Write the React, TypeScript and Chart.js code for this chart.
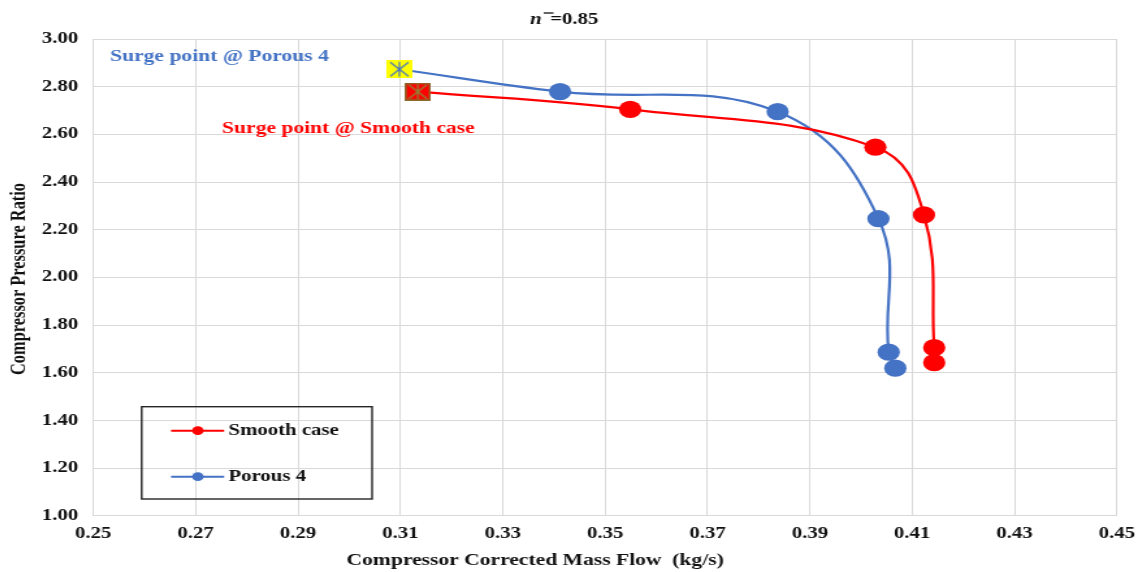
import { useEffect, useRef } from 'react';
import { Chart, registerables } from 'chart.js';

Chart.register(...registerables);

// Compressor characteristic at n̄ = 0.85 (first point of each series = surge point)
const smoothFlow = [0.3134, 0.3549, 0.4028, 0.4123, 0.4143, 0.4143];
const smoothRatio = [2.779, 2.705, 2.546, 2.262, 1.705, 1.642];
const porousFlow = [0.3098, 0.3412, 0.3837, 0.4034, 0.4054, 0.4067];
const porousRatio = [2.873, 2.779, 2.695, 2.246, 1.686, 1.619];

const seriesNames = ['Smooth case', 'Porous 4'];
const flowTicks = [0.25, 0.27, 0.29, 0.31, 0.33, 0.35, 0.37, 0.39, 0.41, 0.43, 0.45];
const ratioTicks = [1.0, 1.2, 1.4, 1.6, 1.8, 2.0, 2.2, 2.4, 2.6, 2.8, 3.0];

const RED = '#FF0000';
const BLUE = '#4472C4';
const GRID = '#d9d9d9';
const INK = '#111111';
const SERIF = "'Liberation Serif', 'Times New Roman', serif";

// The canvas is rendered narrow and widened by CSS (factor 1.3), giving the stretched look
const STRETCH = 1.3;
const CSS_W = 1130;
const W = Math.round(CSS_W / STRETCH);
const H = 564;
const AREA = { left: 65.6, right: 852.8, top: 31, bottom: 507.7 };

function surgeMarker(fill: string, star: string, edge?: string) {
  const c = document.createElement('canvas');
  c.width = 20;
  c.height = 18;
  const g = c.getContext('2d')!;
  g.fillStyle = fill;
  g.fillRect(0, 0, 20, 18);
  if (edge) {
    g.strokeStyle = edge;
    g.lineWidth = 1.5;
    g.strokeRect(0.75, 0.75, 18.5, 16.5);
  }
  g.strokeStyle = star;
  g.lineWidth = 1.2;
  g.beginPath();
  g.moveTo(10, 1.5);
  g.lineTo(10, 16.5);
  g.moveTo(3, 2);
  g.lineTo(17, 16);
  g.moveTo(17, 2);
  g.lineTo(3, 16);
  g.stroke();
  return c;
}

const overlay = {
  id: 'overlay',
  afterDraw(chart: any) {
    const ctx = chart.ctx as CanvasRenderingContext2D;
    ctx.save();
    ctx.fillStyle = INK;
    ctx.textBaseline = 'middle';
    ctx.textAlign = 'left';

    // chart title: n̄ = 0.85
    ctx.font = `italic bold 16px ${SERIF}`;
    ctx.fillText('n', 401.5, 12);
    ctx.font = `bold 16px ${SERIF}`;
    ctx.fillText('=0.85', 417, 12);
    ctx.strokeStyle = INK;
    ctx.lineWidth = 1.3;
    ctx.beginPath();
    ctx.moveTo(412, 5);
    ctx.lineTo(419.5, 5);
    ctx.stroke();

    // axis titles
    ctx.textAlign = 'center';
    ctx.font = `bold 16.6px ${SERIF}`;
    ctx.fillText('Compressor Corrected Mass Flow  (kg/s)', 405.4, 553);
    ctx.save();
    ctx.translate(8.5, 271);
    ctx.rotate(-Math.PI / 2);
    ctx.font = `bold 16.4px ${SERIF}`;
    ctx.fillText('Compressor Pressure Ratio', 0, 0);
    ctx.restore();

    // surge point notes
    ctx.textAlign = 'left';
    ctx.font = `bold 16.6px ${SERIF}`;
    ctx.fillStyle = BLUE;
    ctx.fillText('Surge point @ Porous 4', 78.5, 49);
    ctx.fillStyle = RED;
    ctx.fillText('Surge point @ Smooth case', 164.6, 120.5);

    // legend box
    ctx.strokeStyle = '#262626';
    ctx.lineWidth = 1.4;
    ctx.strokeRect(102.8, 398.7, 177.2, 92.3);
    const rows = [
      { name: seriesNames[0], color: RED, y: 422.7 },
      { name: seriesNames[1], color: BLUE, y: 468.7 },
    ];
    for (const r of rows) {
      ctx.strokeStyle = r.color;
      ctx.lineWidth = 2;
      ctx.beginPath();
      ctx.moveTo(125.4, r.y);
      ctx.lineTo(166.2, r.y);
      ctx.stroke();
      ctx.fillStyle = r.color;
      ctx.beginPath();
      ctx.arc(146, r.y, 4.4, 0, Math.PI * 2);
      ctx.fill();
      ctx.fillStyle = INK;
      ctx.font = `bold 16px ${SERIF}`;
      ctx.fillText(r.name, 169.5, r.y);
    }
    ctx.restore();
  },
};

export default function App() {
  const ref = useRef<HTMLCanvasElement | null>(null);

  useEffect(() => {
    const canvas = ref.current;
    if (!canvas) return;

    const redSurge = surgeMarker(RED, '#8a8a3a', '#8a6a2a');
    const blueSurge = surgeMarker('#FFFF00', BLUE);

    const tickFont = { family: SERIF, size: 16, weight: 'bold' as const };

    const chart = new Chart(canvas, {
      type: 'scatter',
      data: {
        datasets: [
          {
            label: seriesNames[0],
            data: smoothFlow.map((x, i) => ({ x, y: smoothRatio[i] })),
            showLine: true,
            borderColor: RED,
            backgroundColor: RED,
            borderWidth: 2.2,
            tension: 0.4,
            pointRadius: 8.6,
            pointBorderWidth: 0,
            pointStyle: (c: any) => (c.dataIndex === 0 ? redSurge : 'circle'),
          },
          {
            label: seriesNames[1],
            data: porousFlow.map((x, i) => ({ x, y: porousRatio[i] })),
            showLine: true,
            borderColor: BLUE,
            backgroundColor: BLUE,
            borderWidth: 2.2,
            tension: 0.4,
            pointRadius: 8.6,
            pointBorderWidth: 0,
            pointStyle: (c: any) => (c.dataIndex === 0 ? blueSurge : 'circle'),
          },
        ],
      },
      options: {
        responsive: false,
        animation: false,
        devicePixelRatio: 1,
        layout: {
          autoPadding: false,
          padding: { left: 0, top: AREA.top, right: W - AREA.right, bottom: 0 },
        },
        plugins: {
          legend: { display: false },
          title: { display: false },
          tooltip: { enabled: false },
        },
        scales: {
          x: {
            type: 'linear',
            min: flowTicks[0],
            max: flowTicks[flowTicks.length - 1],
            afterBuildTicks: (s: any) => {
              s.ticks = flowTicks.map((value) => ({ value }));
            },
            afterFit: (s: any) => {
              s.height = H - AREA.bottom;
              s.paddingLeft = 0;
              s.paddingRight = 0;
            },
            grid: { color: GRID, lineWidth: 1, drawTicks: false },
            border: { color: GRID, width: 1 },
            ticks: {
              font: tickFont,
              color: INK,
              padding: 9,
              maxRotation: 0,
              autoSkip: false,
              callback: (v: any) => Number(v).toFixed(2),
            },
          },
          y: {
            type: 'linear',
            min: ratioTicks[0],
            max: ratioTicks[ratioTicks.length - 1],
            afterBuildTicks: (s: any) => {
              s.ticks = ratioTicks.map((value) => ({ value }));
            },
            afterFit: (s: any) => {
              s.width = AREA.left;
              s.paddingTop = 0;
              s.paddingBottom = 0;
            },
            grid: { color: GRID, lineWidth: 1, drawTicks: false },
            border: { color: GRID, width: 1 },
            ticks: {
              font: tickFont,
              color: INK,
              padding: 11.6,
              autoSkip: false,
              callback: (v: any) => Number(v).toFixed(2),
            },
          },
        },
      },
      plugins: [overlay],
    });

    return () => chart.destroy();
  }, []);

  return (
    <canvas
      ref={ref}
      width={W}
      height={H}
      style={{
        display: 'block',
        position: 'fixed',
        left: '8px',
        top: '8px',
        width: `${CSS_W}px`,
        height: `${H}px`,
      }}
    />
  );
}
